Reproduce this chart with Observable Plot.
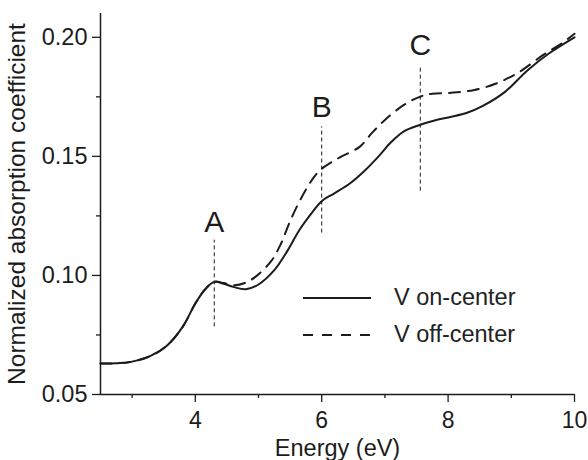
<!DOCTYPE html>
<html>
<head>
<meta charset="utf-8">
<script src="https://cdn.jsdelivr.net/npm/d3@7"></script>
<script src="https://cdn.jsdelivr.net/npm/@observablehq/plot@0.6"></script>
<style>
  html, body { margin: 0; padding: 0; background: #fff; }
  #wrap { position: relative; width: 588px; height: 460px; font-family: "Liberation Sans", Arial, sans-serif; }
  #legend { position: absolute; left: 303px; top: 279px; color: #222; font-size: 23.5px; }
  #legend .row { display: flex; align-items: center; height: 37px; }
  #legend svg { display: block; margin-right: 23px; }
</style>
</head>
<body>
<div id="wrap"><div id="legend"></div></div>
<script>
// ---- data ----
const onEnergy = [2.5, 2.75, 3.0, 3.3, 3.55, 3.8, 4.0, 4.15, 4.3, 4.45, 4.6, 4.8, 5.0, 5.25, 5.45, 5.65, 5.85, 6.0, 6.2, 6.45, 6.7, 6.9, 7.1, 7.3, 7.55, 7.8, 8.05, 8.3, 8.55, 8.9, 9.25, 9.6, 10.0];
const onValues = [0.0630, 0.0631, 0.0638, 0.0663, 0.0705, 0.0784, 0.0882, 0.0940, 0.0973, 0.0965, 0.0952, 0.0942, 0.0962, 0.1022, 0.1100, 0.1192, 0.1265, 0.1312, 0.1345, 0.1387, 0.1445, 0.1500, 0.1560, 0.1605, 0.1632, 0.1652, 0.1666, 0.1683, 0.1712, 0.1771, 0.1860, 0.1933, 0.2000];
const offEnergy = [2.5, 2.75, 3.0, 3.3, 3.55, 3.8, 4.0, 4.15, 4.3, 4.45, 4.62, 4.8, 4.95, 5.2, 5.35, 5.5, 5.7, 5.88, 6.0, 6.15, 6.3, 6.6, 6.8, 7.0, 7.3, 7.55, 7.75, 8.05, 8.4, 8.75, 9.1, 9.5, 9.8, 10.0];
const offValues = [0.0630, 0.0631, 0.0638, 0.0663, 0.0705, 0.0784, 0.0882, 0.0940, 0.0973, 0.0968, 0.0959, 0.0970, 0.0994, 0.1060, 0.1130, 0.1228, 0.1337, 0.1414, 0.1448, 0.1475, 0.1498, 0.1540, 0.1600, 0.1653, 0.1716, 0.1750, 0.1763, 0.1767, 0.1778, 0.1805, 0.1850, 0.1925, 0.1975, 0.2015];
const seriesNames = ["V on-center", "V off-center"];
const markerLabels = ["A", "B", "C"];
const markerEnergy = [4.3, 6.0, 7.56];
const markerLow = [0.0784, 0.1178, 0.1354];
const markerHigh = [0.1148, 0.1624, 0.1872];
const labelValue = [0.1182, 0.1664, 0.1925];
const xMajor = [4, 6, 8, 10];
const xMinor = [3, 5, 7, 9];
const yMajor = [0.05, 0.10, 0.15, 0.20];
const yMinor = [0.075, 0.125, 0.175];
const xDomain = [2.5, 10];
const yDomain = [0.05, 0.21];
const xLabel = "Energy (eV)";
const yLabel = "Normalized absorption coefficient";

const onData = onEnergy.map((e, i) => ({e, v: onValues[i]}));
const offData = offEnergy.map((e, i) => ({e, v: offValues[i]}));
const markers = markerLabels.map((l, i) => ({l, e: markerEnergy[i], y1: markerLow[i], y2: markerHigh[i], ly: labelValue[i]}));

const ink = "#1c1c1c";
const dashes = ["none", "11,8"];

const chart = Plot.plot({
  width: 588,
  height: 460,
  marginLeft: 100,
  marginRight: 14,
  marginTop: 13,
  marginBottom: 66,
  style: {fontFamily: "'Liberation Sans', Arial, sans-serif", color: ink, background: "white"},
  x: {domain: xDomain},
  y: {domain: yDomain},
  marks: [
    Plot.axisX(xMajor, {tickSize: 8, tickPadding: 9, fontSize: 23, tickFormat: d => String(d), stroke: ink, strokeWidth: 1.3, label: null}),
    Plot.axisX(xMinor, {tickSize: 4, tickFormat: () => "", stroke: ink, strokeWidth: 1.3, label: null}),
    Plot.axisY(yMajor, {tickSize: 8, tickPadding: 5, fontSize: 23.5, tickFormat: d3.format(".2f"), stroke: ink, strokeWidth: 1.3, label: null}),
    Plot.axisY(yMinor, {tickSize: 4, tickFormat: () => "", stroke: ink, strokeWidth: 1.3, label: null}),
    Plot.ruleX([xDomain[0]], {stroke: ink, strokeWidth: 1.5}),
    Plot.ruleY([yDomain[0]], {stroke: ink, strokeWidth: 1.5}),
    Plot.ruleX(markers, {x: "e", y1: "y1", y2: "y2", stroke: ink, strokeWidth: 1, strokeDasharray: "4,3"}),
    Plot.text(markers, {x: "e", y: "ly", text: "l", fontSize: 30, lineAnchor: "bottom", fill: ink}),
    Plot.line(offData, {x: "e", y: "v", stroke: ink, strokeWidth: 2, strokeDasharray: dashes[1], curve: "catmull-rom"}),
    Plot.line(onData, {x: "e", y: "v", stroke: ink, strokeWidth: 2, curve: "catmull-rom"}),
    Plot.text([xLabel], {frameAnchor: "bottom", dy: 61, lineAnchor: "bottom", fontSize: 23.5, fill: ink}),
    Plot.text([yLabel], {frameAnchor: "left", dx: -83, rotate: -90, textAnchor: "middle", lineAnchor: "middle", fontSize: 24.5, fill: ink})
  ]
});
const wrap = document.getElementById("wrap");
wrap.insertBefore(chart, wrap.firstChild);

const legend = document.getElementById("legend");
seriesNames.forEach((name, i) => {
  const row = document.createElement("div");
  row.className = "row";
  row.innerHTML = `<svg width="68" height="6"><line x1="0" y1="3" x2="68" y2="3" stroke="${ink}" stroke-width="2" ${i ? 'stroke-dasharray="10,9"' : ""}/></svg><span>${name}</span>`;
  legend.appendChild(row);
});
</script>
</body>
</html>
